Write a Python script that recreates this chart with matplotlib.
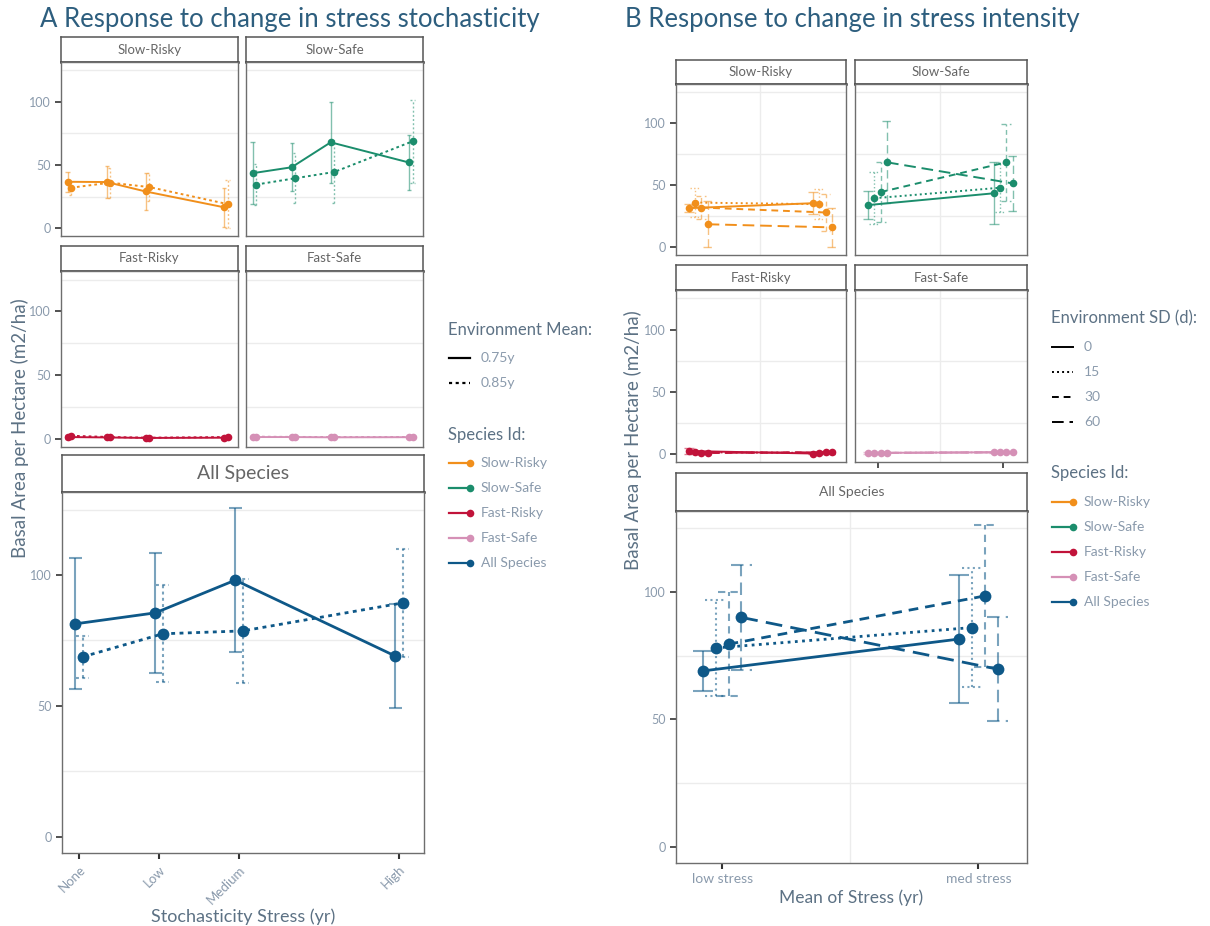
import numpy as np
import matplotlib
matplotlib.use("Agg")
import matplotlib.pyplot as plt
from matplotlib.lines import Line2D

plt.rcParams['font.family'] = ['Lato', 'DejaVu Sans']

# --- data: panel A (stress stochasticity) ---
A_x = [0, 15, 30, 60]
A_xlabels = ['None', 'Low', 'Medium', 'High']
A_levels = ['0.75y', '0.85y']

A_slow_risky = [[36.7, 36.5, 29.0, 16.5], [32.0, 36.0, 32.5, 19.0]]
A_slow_risky_err = [[8, 13, 15, 15.5], [6, 12, 11, 19]]
A_slow_safe = [[43.5, 48.2, 68.0, 52.0], [34.5, 39.5, 44.5, 68.8]]
A_slow_safe_err = [[24.5, 19, 32, 22], [16, 20, 25, 33]]
A_fast_risky = [[1.5, 1.2, 0.8, 1.0], [2.5, 1.5, 1.0, 1.5]]
A_fast_risky_err = [[1.5, 1.0, 0.8, 1.0], [1.5, 1.0, 1.0, 1.0]]
A_fast_safe = [[1.5, 1.5, 1.3, 1.4], [1.8, 1.6, 1.5, 1.5]]
A_fast_safe_err = [[0.6, 0.5, 0.5, 0.5], [0.6, 0.5, 0.5, 0.5]]
A_all = [[81.3, 85.5, 98.0, 69.0], [68.7, 77.5, 78.6, 89.3]]
A_all_err = [[25, 23, 27.5, 20], [8, 18.5, 20, 20.6]]

# --- data: panel B (stress intensity) ---
B_x = [1, 2]
B_xlabels = ['low stress', 'med stress']
B_levels = ['0', '15', '30', '60']

B_slow_risky = [[31.5, 35.5], [36.0, 34.7], [32.0, 28.0], [18.5, 16.0]]
B_slow_risky_err = [[3, 9], [12, 12], [9, 15], [18.5, 16]]
B_slow_safe = [[34.0, 43.5], [39.5, 48.0], [44.5, 68.5], [68.5, 51.5]]
B_slow_safe_err = [[11, 25], [21, 20], [24.5, 31], [33, 22]]
B_fast_risky = [[2.5, 0.5], [1.5, 1.0], [1.0, 1.5], [1.0, 1.5]]
B_fast_risky_err = [[2.5, 0.5], [1.0, 1.0], [1.0, 1.0], [1.0, 1.0]]
B_fast_safe = [[1.0, 1.5], [1.0, 1.5], [1.0, 1.5], [1.0, 1.5]]
B_fast_safe_err = [[0.5, 0.6], [0.5, 0.6], [0.5, 0.6], [0.5, 0.6]]
B_all = [[69.0, 81.5], [78.0, 86.0], [79.5, 98.4], [90.0, 69.7]]
B_all_err = [[8, 25.2], [18.7, 23.4], [20.5, 28], [20.6, 20.3]]

species = ['Slow-Risky', 'Slow-Safe', 'Fast-Risky', 'Fast-Safe', 'All Species']
colors = {'Slow-Risky': '#F18F1B', 'Slow-Safe': '#1B8D6C', 'Fast-Risky': '#C1133A',
          'Fast-Safe': '#D590B6', 'All Species': '#0E5888'}

LS = ['-', (0, (1, 1.6)), (0, (3.5, 2.5)), (0, (6, 3))]
LS_A = ['-', (0, (1.4, 1.6))]

TEXT = '#5c7184'
TICKC = '#8a9aac'
STRIPC = '#666666'
TITLEC = '#2d5e7e'
W, H = 1210, 926

fig = plt.figure(figsize=(W / 100, H / 100), dpi=100)


def box(x0, x1, y0, y1):
    return [x0 / W, 1 - y1 / H, (x1 - x0) / W, (y1 - y0) / H]


def make_panel(x0, x1, ys, ye, yp, label, fs=9.5):
    st = fig.add_axes(box(x0, x1, ys, ye))
    st.set_xticks([]); st.set_yticks([])
    for s in st.spines.values():
        s.set_color('#555555'); s.set_linewidth(1.1)
    st.spines['bottom'].set_linewidth(1.8); st.spines['bottom'].set_color('#333333')
    st.text(0.5, 0.5, label, ha='center', va='center', fontsize=fs, color=STRIPC,
            transform=st.transAxes)
    ax = fig.add_axes(box(x0, x1, ye, yp))
    for s in ax.spines.values():
        s.set_color('#6e6e6e'); s.set_linewidth(1.0)
    ax.set_ylim(-6.3, 131.7)
    for g in [25, 75, 125]:
        ax.axhline(g, color='#ececec', lw=1.0, zorder=0)
    ax.set_yticks([0, 50, 100])
    ax.tick_params(axis='y', length=4, color='#333333', labelcolor=TICKC, labelsize=9, width=1.2)
    ax.tick_params(axis='x', length=0)
    ax.set_xticks([])
    return ax


def draw(ax, x, means, errs, color, styles, offs, cw, lw, ms, elw):
    for i, (m, e) in enumerate(zip(means, errs)):
        xs = np.array(x, dtype=float) + offs[i]
        m = np.array(m); e = np.array(e)
        ax.vlines(xs, m - e, m + e, colors=color, alpha=0.55, linestyles=[styles[i]], lw=elw)
        ax.hlines(m + e, xs - cw, xs + cw, colors=color, alpha=0.55, linestyles=[styles[i]], lw=elw)
        ax.hlines(m - e, xs - cw, xs + cw, colors=color, alpha=0.55, linestyles=[styles[i]], lw=elw)
        ax.plot(xs, m, color=color, linestyle=styles[i], lw=lw, marker='o', ms=ms,
                markeredgewidth=0, zorder=3)


# ---------- Panel A ----------
fig.text(40 / W, 1 - 19 / H, 'A Response to change in stress stochasticity', fontsize=18.5,
         color=TITLEC, va='center', ha='left')
A_off = [-0.7, 0.7]
A_xlim = (-3.2, 64.7)
a_facets = [
    ('Slow-Risky', 61, 238, 37, 62, 236, A_slow_risky, A_slow_risky_err),
    ('Slow-Safe', 246, 423, 37, 62, 236, A_slow_safe, A_slow_safe_err),
    ('Fast-Risky', 61, 238, 246, 271, 447, A_fast_risky, A_fast_risky_err),
    ('Fast-Safe', 246, 423, 246, 271, 447, A_fast_safe, A_fast_safe_err),
]
for name, x0, x1, ys, ye, yp, m, e in a_facets:
    ax = make_panel(x0, x1, ys, ye, yp, name)
    ax.set_xlim(*A_xlim)
    draw(ax, A_x, m, e, colors[name], LS_A, A_off, 0.8, 1.4, 5.5, 1.0)
    if x0 > 100:
        ax.tick_params(axis='y', length=0, labelleft=False)

ax = make_panel(62, 424, 455, 492, 853, 'All Species', fs=14)
ax.set_xlim(*A_xlim)
draw(ax, A_x, A_all, A_all_err, colors['All Species'], LS_A, A_off, 1.2, 2.0, 8.5, 1.5)
ax.set_xticks(A_x)
ax.set_xticklabels(A_xlabels, rotation=45, ha='right', rotation_mode='anchor')
ax.tick_params(axis='x', length=4, width=1.5, color='#333333', labelcolor=TICKC, labelsize=9.5)
ax.set_xlabel('Stochasticity Stress (yr)', color=TEXT, fontsize=13, labelpad=2)

fig.text(20 / W, 1 - 428 / H, 'Basal Area per Hectare (m2/ha)', rotation=90, fontsize=13.5,
         color=TEXT, ha='center', va='center')

# legend A
fig.text(448 / W, 1 - 330 / H, 'Environment Mean:', fontsize=12, color=TEXT, va='center')
for i, lab in enumerate(A_levels):
    y = 1 - (358 + 25 * i) / H
    fig.add_artist(Line2D([449 / W, 470 / W], [y, y], color='black', lw=1.6, linestyle=LS_A[i]))
    fig.text(481 / W, y, lab, fontsize=10, color=TICKC, va='center')
fig.text(448 / W, 1 - 435 / H, 'Species Id:', fontsize=12, color=TEXT, va='center')
for i, sp in enumerate(species):
    y = 1 - (463 + 25 * i) / H
    fig.add_artist(Line2D([449 / W, 470 / W], [y, y], color=colors[sp], lw=1.6,
                          marker='o', markevery=[1], ms=5.5, markeredgewidth=0))
    fig.text(481 / W, y, sp, fontsize=10, color=TICKC, va='center')

# ---------- Panel B ----------
fig.text(625 / W, 1 - 19 / H, 'B Response to change in stress intensity', fontsize=18.5,
         color=TITLEC, va='center', ha='left')
B_off = [-0.075, -0.025, 0.025, 0.075]
B_xlim = (0.82, 2.19)
b_facets = [
    ('Slow-Risky', 676, 846, 60, 84, 255, B_slow_risky, B_slow_risky_err),
    ('Slow-Safe', 855, 1027, 60, 84, 255, B_slow_safe, B_slow_safe_err),
    ('Fast-Risky', 676, 846, 265, 290, 462, B_fast_risky, B_fast_risky_err),
    ('Fast-Safe', 855, 1027, 265, 290, 462, B_fast_safe, B_fast_safe_err),
]
for name, x0, x1, ys, ye, yp, m, e in b_facets:
    ax = make_panel(x0, x1, ys, ye, yp, name)
    ax.set_xlim(*B_xlim)
    ax.axvline(1.5, color='#ececec', lw=1.0, zorder=0)
    draw(ax, B_x, m, e, colors[name], LS, B_off, 0.04, 1.4, 5.5, 1.0)
    if x0 > 700:
        ax.tick_params(axis='y', length=0, labelleft=False)
    if name == 'Fast-Safe':
        ax.set_xticks(B_x)
        ax.tick_params(axis='x', length=4, width=1.2, color='#333333', labelbottom=False)

ax = make_panel(676, 1027, 473, 511, 863, 'All Species', fs=10)
ax.set_xlim(*B_xlim)
ax.axvline(1.5, color='#ececec', lw=1.0, zorder=0)
draw(ax, B_x, B_all, B_all_err, colors['All Species'], LS, B_off, 0.04, 2.0, 8.5, 1.5)
ax.set_xticks(B_x)
ax.set_xticklabels(B_xlabels)
ax.tick_params(axis='x', length=4, width=1.5, color='#333333', labelcolor=TICKC, labelsize=10)
ax.set_xlabel('Mean of Stress (yr)', color=TEXT, fontsize=12.5, labelpad=3)

fig.text(633 / W, 1 - 440 / H, 'Basal Area per Hectare (m2/ha)', rotation=90, fontsize=13.5,
         color=TEXT, ha='center', va='center')

# legend B
fig.text(1051 / W, 1 - 318 / H, 'Environment SD (d):', fontsize=12, color=TEXT, va='center')
for i, lab in enumerate(B_levels):
    y = 1 - (347 + 25 * i) / H
    fig.add_artist(Line2D([1052 / W, 1073 / W], [y, y], color='black', lw=1.4, linestyle=LS[i]))
    fig.text(1084 / W, y, lab, fontsize=10, color=TICKC, va='center')
fig.text(1051 / W, 1 - 473 / H, 'Species Id:', fontsize=12, color=TEXT, va='center')
for i, sp in enumerate(species):
    y = 1 - (502 + 25 * i) / H
    fig.add_artist(Line2D([1052 / W, 1073 / W], [y, y], color=colors[sp], lw=1.6,
                          marker='o', markevery=[1], ms=5.5, markeredgewidth=0))
    fig.text(1084 / W, y, sp, fontsize=10, color=TICKC, va='center')

fig.savefig('out.png', dpi=100, facecolor='white')
